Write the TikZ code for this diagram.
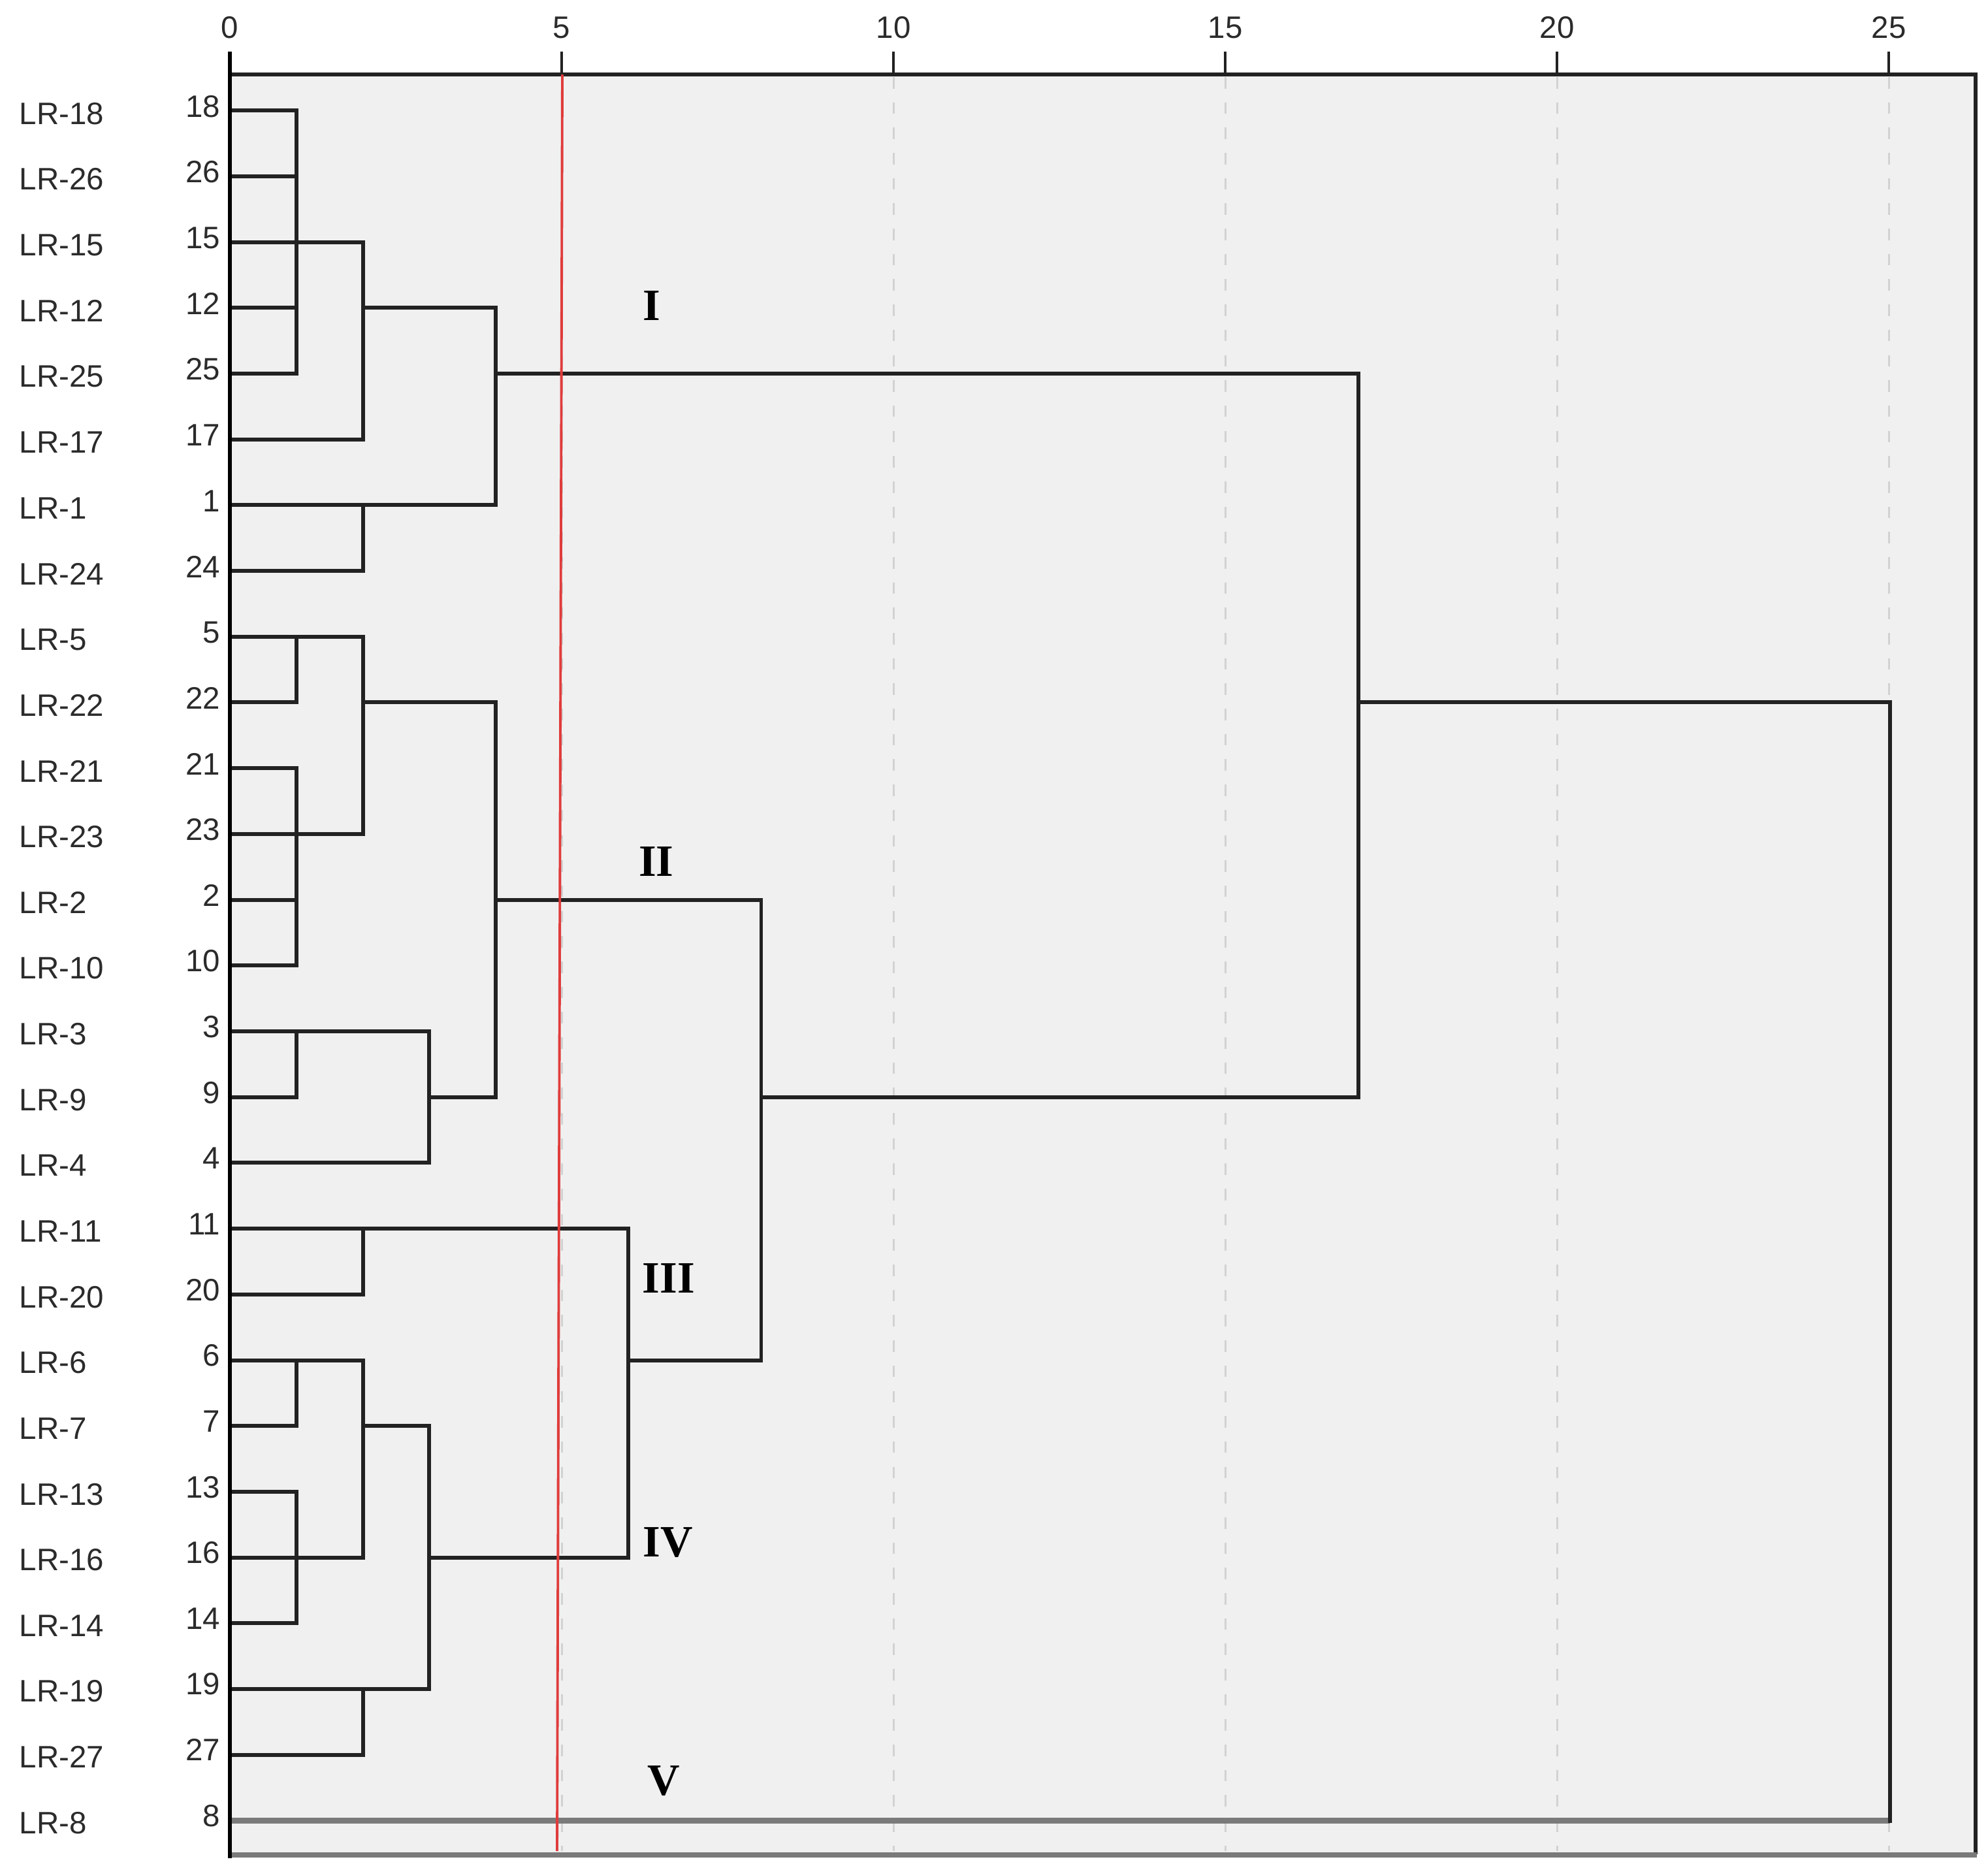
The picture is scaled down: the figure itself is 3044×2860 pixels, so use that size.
\documentclass[tikz,border=0pt]{standalone}
\usepackage{fontspec}
\newfontfamily\labfont{Liberation Sans}
\newfontfamily\romfont{Liberation Serif}
\definecolor{plotbg}{HTML}{F0F0F0}
\definecolor{linecol}{HTML}{222222}
\definecolor{gridcol}{HTML}{D2D2D2}
\definecolor{redline}{HTML}{E03C3C}
\definecolor{graycol}{HTML}{7A7A7A}
\definecolor{txtcol}{HTML}{2B2B2B}
\tikzset{
  dend/.style={draw=linecol, line width=1.7pt, line cap=rect},
  dendgray/.style={draw=graycol, line width=2.5pt},
  gridline/.style={draw=gridcol, line width=0.85pt, dash pattern=on 5pt off 6pt},
  leaflab/.style={font=\labfont\fontsize{13.5}{16}\selectfont, text=txtcol, inner sep=0pt},
  clab/.style={font=\romfont\bfseries\fontsize{19.5}{22}\selectfont, text=black, inner sep=0pt},
}
\newcommand\mergeat[4]{%
  \foreach \ch in {#2} {\draw[dend] (\ch) -- (\ch -| #1);}
  \draw[dend] (#3 -| #1) -- (#4 -| #1);
}
\begin{document}
\begin{tikzpicture}[x=0.01cm,y=-0.01cm]
\useasboundingbox[fill=white] (0,0) rectangle (3044,2860);
% plot area
\fill[plotbg] (352,114) rectangle (3025,2839);
\foreach \d in {5,10,15,20,25} \draw[gridline] ({352+101.6*\d},118) -- ({352+101.6*\d},2834);
\foreach \d in {0,5,10,15,20,25} {
  \draw[linecol, line width=1.1pt] ({352+101.6*\d},79) -- ({352+101.6*\d},114);
  \node[leaflab] (ax\d) at ({352+101.6*\d},42) {\d};
}
% dendrogram
\begin{scope}[shift={(3.52cm,-1.69cm)}, x=1.016cm, y=-1.0065cm]
\foreach \i in {0,...,26} \coordinate (L\i) at (0,\i);
\coordinate (A1) at (1,2);
\coordinate (B1) at (2,3);
\coordinate (C1) at (2,6);
\coordinate (D1) at (4,4);
\coordinate (E1) at (1,8);
\coordinate (E2) at (1,11);
\coordinate (E3) at (2,9);
\coordinate (E4) at (1,14);
\coordinate (E5) at (3,15);
\coordinate (E6) at (4,12);
\coordinate (F1) at (2,17);
\coordinate (G1) at (1,19);
\coordinate (G2) at (1,22);
\coordinate (G3) at (2,20);
\coordinate (G4) at (2,24);
\coordinate (G5) at (3,22);
\coordinate (H1) at (6,19);
\coordinate (K1) at (8,15);
\coordinate (M1) at (17,9);
\coordinate (N1) at (25,9);
\end{scope}
\mergeat{A1}{L0,L1,L2,L3,L4}{L0}{L4}
\mergeat{B1}{A1,L5}{A1}{L5}
\mergeat{C1}{L6,L7}{L6}{L7}
\mergeat{D1}{B1,C1}{B1}{C1}
\mergeat{E1}{L8,L9}{L8}{L9}
\mergeat{E2}{L10,L11,L12,L13}{L10}{L13}
\mergeat{E3}{E1,E2}{E1}{E2}
\mergeat{E4}{L14,L15}{L14}{L15}
\mergeat{E5}{E4,L16}{E4}{L16}
\mergeat{E6}{E3,E5}{E3}{E5}
\mergeat{F1}{L17,L18}{L17}{L18}
\mergeat{G1}{L19,L20}{L19}{L20}
\mergeat{G2}{L21,L22,L23}{L21}{L23}
\mergeat{G3}{G1,G2}{G1}{G2}
\mergeat{G4}{L24,L25}{L24}{L25}
\mergeat{G5}{G3,G4}{G3}{G4}
\mergeat{H1}{F1,G5}{F1}{G5}
\mergeat{K1}{E6,H1}{E6}{H1}
\mergeat{M1}{D1,K1}{D1}{K1}
\draw[dend] (M1) -- (M1 -| N1);
\draw[dendgray] (L26) -- (L26 -| N1);
\draw[dend] (M1 -| N1) -- (L26 -| N1);
% frame
\draw[linecol, line width=1.45pt] (352,114) -- (3025,114) -- (3025,2839);
\draw[graycol, line width=2.5pt] (352,2840) -- (3027,2840);
\draw[black, line width=1.45pt] (352,79) -- (352,2845);
% red cut line
\draw[redline, line width=1.1pt] (861,114) -- (853,2834);
% leaf labels
\foreach \n [count=\i from 0] in {18,26,15,12,25,17,1,24,5,22,21,23,2,10,3,9,4,11,20,6,7,13,16,14,19,27,8} {
  \node[leaflab, anchor=west] (lr\n) at (29,{174+100.65*\i}) {LR-\n};
  \node[leaflab, anchor=east] (nm\n) at (338,{163+100.65*\i}) {\n};
}
% cluster labels
\node[clab] (cI) at (998,468) {I};
\node[clab] (cII) at (1005,1319) {II};
\node[clab] (cIII) at (1024,1957) {III};
\node[clab] (cIV) at (1023,2362) {IV};
\node[clab] (cV) at (1016,2727) {V};
\end{tikzpicture}
\end{document}
